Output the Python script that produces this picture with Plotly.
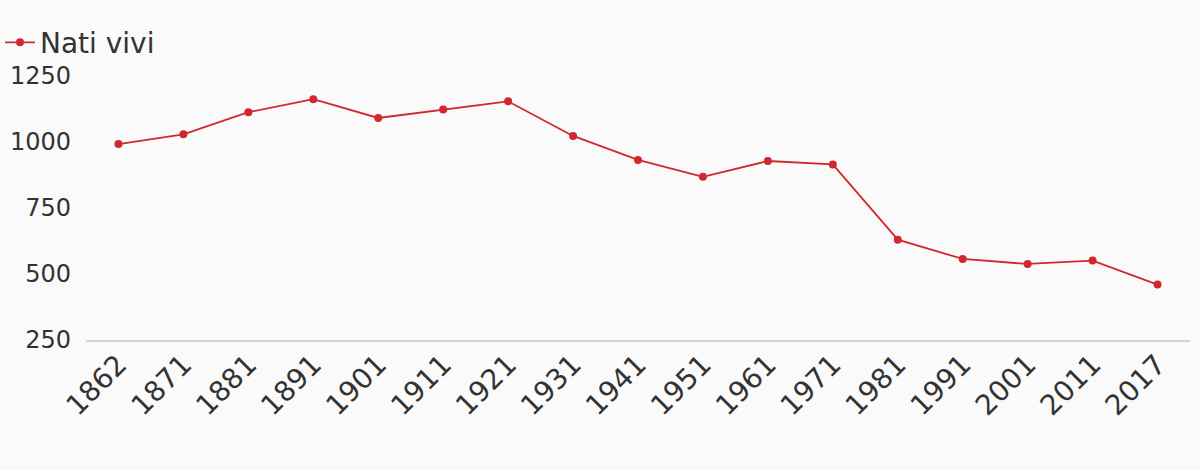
import plotly.graph_objects as go

years = ["1862", "1871", "1881", "1891", "1901", "1911", "1921", "1931", "1941",
         "1951", "1961", "1971", "1981", "1991", "2001", "2011", "2017"]
nati_vivi = [992, 1029, 1113, 1162, 1091, 1123, 1154, 1023, 932,
             868, 928, 915, 630, 557, 538, 551, 460]
y_ticks = [250, 500, 750, 1000, 1250]

RED = "#d0282e"
TXT = "#333333"
BG = "#fafafa"

T, B = 75.5, 129.7
plot_h = 470 - T - B

fig = go.Figure()
fig.add_trace(go.Scatter(
    x=years, y=nati_vivi, mode="lines+markers", name="Nati vivi",
    line=dict(color=RED, width=1.8),
    marker=dict(color=RED, size=8),
    cliponaxis=False,
))

fig.update_layout(
    width=1200, height=470,
    paper_bgcolor=BG, plot_bgcolor=BG,
    margin=dict(l=86, r=10, t=T, b=B, autoexpand=False),
    font=dict(family="DejaVu Sans", color=TXT, size=24),
    showlegend=True,
    legend=dict(
        orientation="h",
        x=-86 / 1104, y=1 + (T - 42) / plot_h, xanchor="left", yanchor="middle",
        font=dict(size=28, color=TXT), bgcolor="rgba(0,0,0,0)",
        itemwidth=30,
    ),
    xaxis=dict(
        type="category", range=[-0.5, len(years) - 0.5], tickangle=-45,
        showgrid=False, zeroline=False, automargin=False,
        showline=True, linecolor="#d3d3d3", linewidth=2,
        ticks="", tickfont=dict(size=28, color=TXT),
        ticklabelstandoff=-5,
    ),
    yaxis=dict(
        range=[250, 1250], tickvals=y_ticks, showgrid=False, zeroline=False,
        showline=False, ticks="", tickfont=dict(size=24, color=TXT),
        ticklabelstandoff=14, automargin=False,
    ),
)

fig.write_html(
    "out.html",
    config={"displayModeBar": False},
    post_script="document.body.style.margin='0';document.body.style.background='#fafafa';",
)
